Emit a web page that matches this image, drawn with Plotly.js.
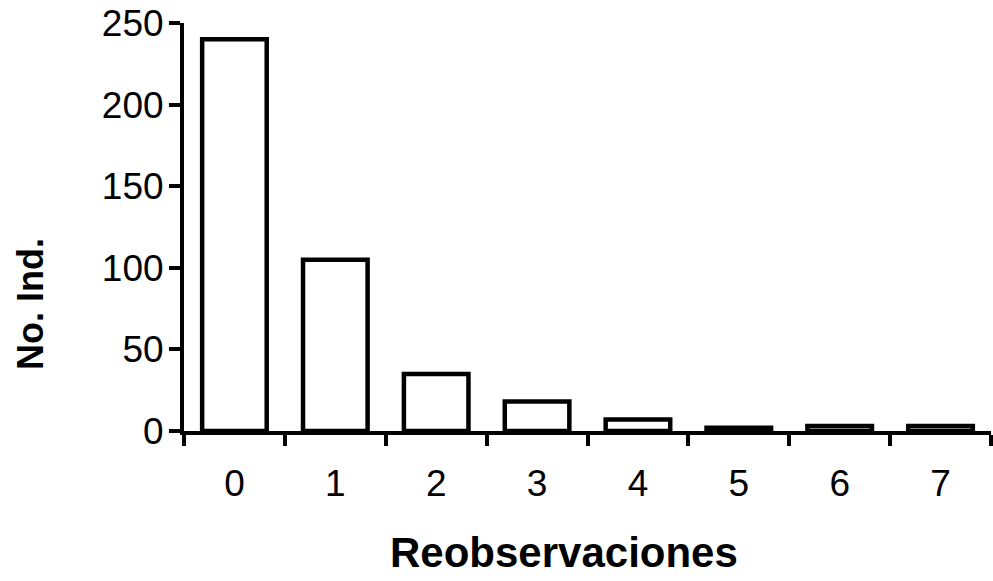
<!DOCTYPE html>
<html>
<head>
<meta charset="utf-8">
<script src="https://cdn.plot.ly/plotly-3.0.1.min.js"></script>
<style>html,body{margin:0;padding:0;background:#fff;}#chart{width:993px;height:581px;}</style>
</head>
<body>
<div id="chart"></div>
<script>
const categories = ["0", "1", "2", "3", "4", "5", "6", "7"];
const counts = [240, 105, 35, 18, 7, 2, 3, 3];
const yTickValues = [0, 50, 100, 150, 200, 250];
const xTitle = "Reobservaciones";
const yTitle = "No. Ind.";

const font = "Liberation Sans, Arial, sans-serif";
const trace = {
  type: "bar",
  x: categories,
  y: counts,
  marker: {color: "#ffffff", line: {color: "#000000", width: 4.5}},
  hoverinfo: "x+y"
};
const layout = {
  width: 993, height: 581,
  paper_bgcolor: "#fff", plot_bgcolor: "#fff",
  margin: {l: 184, r: 2, t: 23, b: 150},
  bargap: 0.36,
  showlegend: false,
  font: {family: font, color: "#000"},
  xaxis: {
    type: "category",
    range: [-0.5, 7.5],
    tickson: "boundaries",
    ticks: "outside", ticklen: 11, tickwidth: 4, tickcolor: "#000",
    showline: true, linewidth: 4, linecolor: "#000",
    showgrid: false, zeroline: false,
    tickfont: {size: 37, family: font},
    ticklabelstandoff: 17
  },
  yaxis: {
    range: [0, 250],
    tickvals: yTickValues,
    ticks: "outside", ticklen: 11, tickwidth: 4, tickcolor: "#000",
    showline: true, linewidth: 4, linecolor: "#000",
    showgrid: false, zeroline: false,
    tickfont: {size: 37, family: font},
    ticklabelstandoff: -2
  },
  annotations: [{
    text: xTitle, xref: "paper", yref: "paper",
    x: 0.471, y: -0.299, xanchor: "center", yanchor: "middle",
    showarrow: false, borderpad: 0,
    font: {size: 42, family: font, weight: "bold", color: "#000"}
  }, {
    text: yTitle, xref: "paper", yref: "paper",
    x: -0.191, y: 0.311, xanchor: "center", yanchor: "middle",
    textangle: -90, showarrow: false,
    font: {size: 36, family: font, weight: "bold", color: "#000"}
  }]
};
Plotly.newPlot("chart", [trace], layout, {displayModeBar: false, staticPlot: true});
</script>
</body>
</html>
